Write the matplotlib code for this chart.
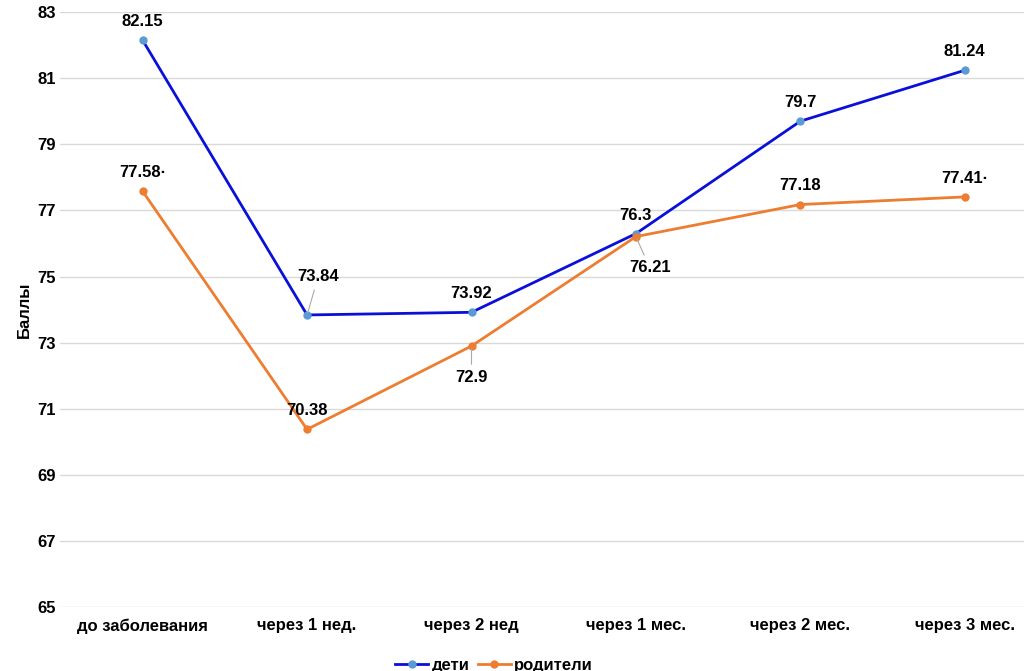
import matplotlib.pyplot as plt

categories = ['до заболевания', 'через 1 нед.', 'через 2 нед', 'через 1 мес.', 'через 2 мес.', 'через 3 мес.']
deti = [82.15, 73.84, 73.92, 76.3, 79.7, 81.24]
roditeli = [77.58, 70.38, 72.9, 76.21, 77.18, 77.41]
deti_labels = ['82.15', '73.84', '73.92', '76.3', '79.7', '81.24']
rod_labels = ['77.58·', '70.38', '72.9', '76.21', '77.18', '77.41·']
yticks = [65, 67, 69, 71, 73, 75, 77, 79, 81, 83]

plt.rcParams['font.family'] = ['Liberation Sans', 'DejaVu Sans']
fig, ax = plt.subplots(figsize=(10.24, 6.71), dpi=100)
fig.subplots_adjust(left=0.059, right=1.0, top=0.982, bottom=0.095)

x = list(range(len(categories)))
ax.plot(x, deti, color='#0a10d8', lw=2, marker='o', ms=5, mfc='#5b9bd5', mec='#5b9bd5', label='дети')
ax.plot(x, roditeli, color='#ed7d31', lw=2, marker='o', ms=5, mfc='#ed7d31', mec='#ed7d31', label='родители')

# подписи значений: смещения в пунктах
deti_off = [(0, 8), (8, 22), (0, 8), (0, 8), (0, 8), (0, 8)]
rod_off = [(0, 8), (0, 8), (0, -28), (10, -28), (0, 8), (0, 8)]
for i in x:
    dx, dy = deti_off[i]
    arrow = dict(arrowstyle='-', color='#aaaaaa', lw=0.8) if i == 1 else None
    ax.annotate(deti_labels[i], (i, deti[i]), xytext=(dx, dy),
                textcoords='offset points', ha='center', va='bottom',
                fontsize=12, fontweight='bold', arrowprops=arrow)
    dx, dy = rod_off[i]
    arrow = dict(arrowstyle='-', color='#aaaaaa', lw=0.8) if i in (2, 3) else None
    ax.annotate(rod_labels[i], (i, roditeli[i]), xytext=(dx, dy),
                textcoords='offset points', ha='center', va='bottom',
                fontsize=12, fontweight='bold', arrowprops=arrow)

ax.set_ylim(65, 83)
ax.set_yticks(yticks)
ax.set_xlim(-0.5, 5.36)
ax.set_xticks(x)
ax.set_xticklabels(categories, fontsize=12, fontweight='bold')
ax.tick_params(axis='y', labelsize=12, length=0)
ax.tick_params(axis='x', length=0, pad=8)
for lbl in ax.get_yticklabels():
    lbl.set_fontweight('bold')
ax.set_ylabel('Баллы', fontsize=12, fontweight='bold')
ax.grid(axis='y', color='#d9d9d9', lw=1)
ax.set_axisbelow(True)
for s in ax.spines.values():
    s.set_visible(False)

ax.legend(loc='upper center', bbox_to_anchor=(0.45, -0.06), ncol=2, frameon=False,
          prop={'weight': 'bold', 'size': 12}, handlelength=2, columnspacing=0.5, handletextpad=0.2)

fig.savefig('out.png')
